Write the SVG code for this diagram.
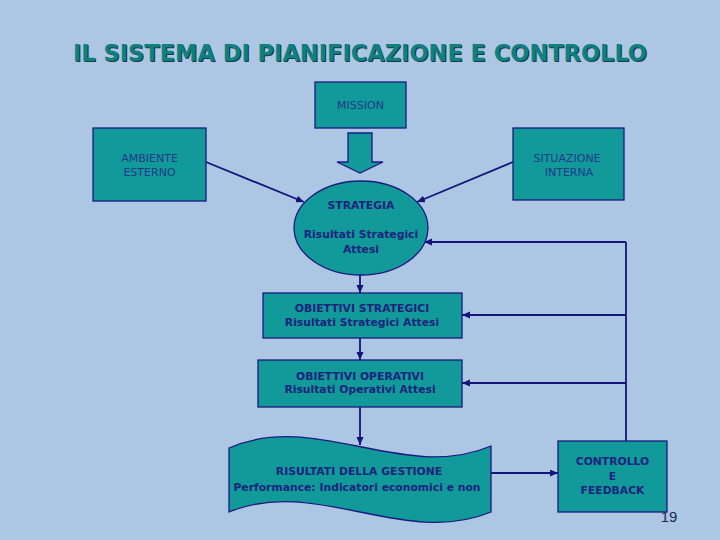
<svg xmlns="http://www.w3.org/2000/svg" width="720" height="540" viewBox="0 0 720 540">
<style>
.bg{fill:#adc6e4}
.node{fill:#129999;stroke:#1a1a80;stroke-width:1.3}
.reg{font-family:"DejaVu Sans",Verdana,sans-serif;font-size:11px;fill:#1e3a8a;text-anchor:middle}
.bold{font-family:"DejaVu Sans",Verdana,sans-serif;font-size:10.8px;font-weight:bold;fill:#1a237e;text-anchor:middle}
.conn{stroke:#14147a;stroke-width:1.8;fill:none}
.title{font-family:"DejaVu Sans Condensed","DejaVu Sans",Verdana,sans-serif;font-stretch:condensed;font-size:23px;font-weight:bold;text-anchor:middle}
</style>
<defs>
<marker id="ah" markerUnits="userSpaceOnUse" markerWidth="9" markerHeight="8" refX="8" refY="3.5" orient="auto">
<path d="M0,0 L8,3.5 L0,7 Z" fill="#14147a"/>
</marker>
</defs>
<rect class="bg" x="0" y="0" width="720" height="540"/>
<g id="title">
<text class="title" x="361" y="62" fill="#1a3a3a" textLength="574" lengthAdjust="spacingAndGlyphs">IL SISTEMA DI PIANIFICAZIONE E CONTROLLO</text>
<text class="title" x="360" y="61" fill="#0e8080" textLength="574" lengthAdjust="spacingAndGlyphs">IL SISTEMA DI PIANIFICAZIONE E CONTROLLO</text>
</g>
<g id="connectors">
<line class="conn" x1="206" y1="162" x2="304" y2="202" marker-end="url(#ah)"/>
<line class="conn" x1="513" y1="162" x2="417" y2="202" marker-end="url(#ah)"/>
<line class="conn" x1="360" y1="275" x2="360" y2="293" marker-end="url(#ah)"/>
<line class="conn" x1="360" y1="338" x2="360" y2="360" marker-end="url(#ah)"/>
<line class="conn" x1="360" y1="407" x2="360" y2="445" marker-end="url(#ah)"/>
<line class="conn" x1="491" y1="473" x2="558" y2="473" marker-end="url(#ah)"/>
<polyline class="conn" points="626,441 626,242"/>
<line class="conn" x1="626" y1="242" x2="424" y2="242" marker-end="url(#ah)"/>
<line class="conn" x1="626" y1="315" x2="462" y2="315" marker-end="url(#ah)"/>
<line class="conn" x1="626" y1="383" x2="462" y2="383" marker-end="url(#ah)"/>
</g>
<g id="mission">
<rect class="node" x="315" y="82" width="91" height="46"/>
<text class="reg" x="360.5" y="109">MISSION</text>
</g>
<g id="mission-arrow">
<polygon class="node" points="348,133 372,133 372,162 383,162 360,173 337,162 348,162"/>
</g>
<g id="ambiente">
<rect class="node" x="93" y="128" width="113" height="73"/>
<text class="reg" x="149.5" y="162">AMBIENTE</text>
<text class="reg" x="149.5" y="176">ESTERNO</text>
</g>
<g id="situazione">
<rect class="node" x="513" y="128" width="111" height="72"/>
<text class="reg" x="567" y="162">SITUAZIONE</text>
<text class="reg" x="569" y="176">INTERNA</text>
</g>
<g id="strategia">
<ellipse class="node" cx="361" cy="228" rx="67" ry="47"/>
<text class="bold" x="361" y="209">STRATEGIA</text>
<text class="bold" x="361" y="238">Risultati Strategici</text>
<text class="bold" x="361" y="253">Attesi</text>
</g>
<g id="obiettivi-strategici">
<rect class="node" x="263" y="293" width="199" height="45"/>
<text class="bold" x="362" y="312">OBIETTIVI STRATEGICI</text>
<text class="bold" x="362" y="326">Risultati  Strategici Attesi</text>
</g>
<g id="obiettivi-operativi">
<rect class="node" x="258" y="360" width="204" height="47"/>
<text class="bold" x="360" y="380">OBIETTIVI OPERATIVI</text>
<text class="bold" x="360" y="393">Risultati Operativi Attesi</text>
</g>
<g id="risultati">
<path class="node" d="M229,448 C316,410 404,483 491,446 L491,512 C404,548 316,476 229,512 Z"/>
<text class="bold" x="359" y="475">RISULTATI DELLA GESTIONE</text>
<text class="bold" x="357" y="491">Performance: Indicatori economici e non</text>
</g>
<g id="controllo">
<rect class="node" x="558" y="441" width="109" height="71"/>
<text class="bold" x="612.5" y="465">CONTROLLO</text>
<text class="bold" x="612.5" y="480">E</text>
<text class="bold" x="612.5" y="494">FEEDBACK</text>
</g>
<text x="669" y="522" font-family="Liberation Sans,Arial,sans-serif" font-size="15" fill="#1a2a55" text-anchor="middle">19</text>
</svg>
